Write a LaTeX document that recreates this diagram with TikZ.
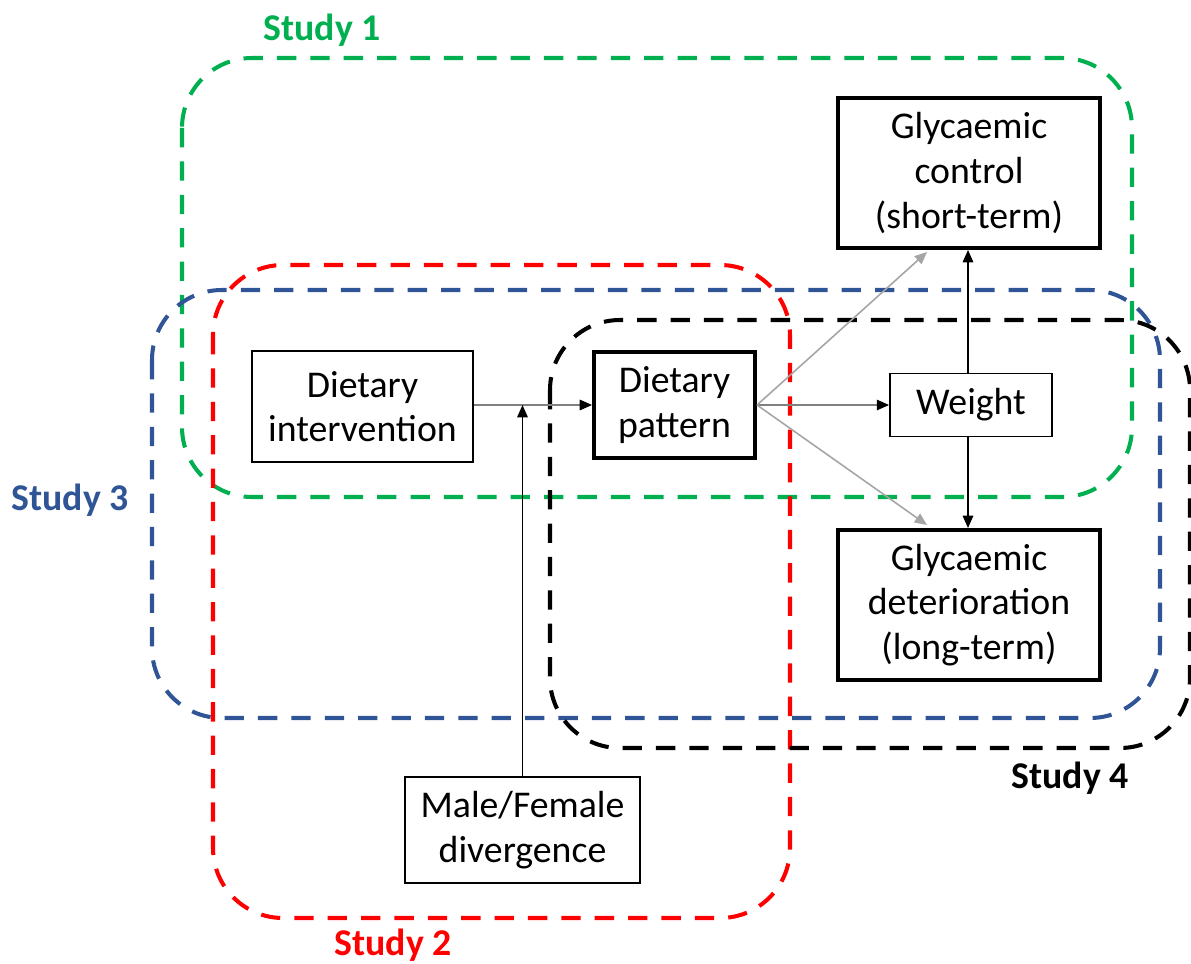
\documentclass[tikz,border=0pt]{standalone}
\usepackage{fontspec}
\setmainfont{Carlito}
\usetikzlibrary{arrows.meta}
\definecolor{sgreen}{RGB}{0,176,80}
\definecolor{sred}{RGB}{255,0,0}
\definecolor{sblue}{RGB}{47,85,151}
\definecolor{agray}{RGB}{165,165,165}
\tikzset{
  studybox/.style={line width=2.3pt, dash pattern=on 11pt off 8pt, rounded corners=1.4cm},
  studylabel/.style={font=\fontsize{21.5}{24}\selectfont\bfseries},
  thinbox/.style={draw, fill=white, line width=1.1pt, align=center, font=\fontsize{21.5}{25.4}\selectfont, inner sep=0pt},
  thickbox/.style={thinbox, line width=2.3pt},
  tip/.style={-{Triangle[length=7pt,width=6pt,color=black]}},
  conn/.style={line width=0.8pt},
  gconn/.style={line width=0.9pt, agray, -{Triangle[length=7pt,width=6pt]}}
}
\begin{document}
\begin{tikzpicture}[x=0.02cm,y=-0.02cm]
\useasboundingbox (0,0) rectangle (1191,964);
% study regions
\draw[studybox, sgreen] (182,58) rectangle (1132,497);
\draw[studybox, sred] (213,265) rectangle (790,918);
\draw[studybox, sblue] (152,290) rectangle (1160,718);
\draw[studybox, black] (550,320) rectangle (1190,748);
\node[studylabel, text=sgreen] (l1) at (322,30) {Study 1};
\node[studylabel, text=sred] (l2) at (393,945) {Study 2};
\node[studylabel, text=sblue] (l3) at (70,500) {Study 3};
\node[studylabel, text=black] (l4) at (1070,778) {Study 4};
% nodes
\node[thinbox, minimum width=4.42cm, minimum height=2.22cm] (di) at (362.5,406.5) {Dietary\\intervention};
\node[thickbox, minimum width=3.22cm, minimum height=2.12cm] (dp) at (674.5,405) {Dietary\\pattern};
\node[thinbox, minimum width=3.24cm, minimum height=1.26cm] (w) at (971,405) {Weight};
\node[thickbox, minimum width=5.24cm, minimum height=3.0cm] (gc) at (969,173) {Glycaemic\\control\\(short-term)};
\node[thickbox, minimum width=5.24cm, minimum height=3.0cm] (gd) at (969,605) {Glycaemic\\deterioration\\(long-term)};
\node[thinbox, minimum width=4.7cm, minimum height=2.12cm] (mf) at (522.5,830) {Male/Female\\divergence};
\coordinate (j) at (522.5,405);
% connectors
\draw[conn, gray, tip] (di.east |- dp.west) -- (dp.west);
\draw[conn, tip] (mf.north) -- (j);
\draw[conn, gray, tip] (dp.east) -- (w.west);
\draw[gconn] (dp.east) -- ([xshift=-0.84cm, yshift=-0.04cm]gc.south);
\draw[gconn] (dp.east) -- ([xshift=-0.84cm, yshift=0.06cm]gd.north);
\draw[conn, tip] ([xshift=-0.06cm]w.north) -- ([xshift=-0.06cm]w.north |- gc.south);
\draw[conn, tip] ([xshift=-0.06cm]w.south) -- ([xshift=-0.06cm]w.south |- gd.north);
\end{tikzpicture}
\end{document}
